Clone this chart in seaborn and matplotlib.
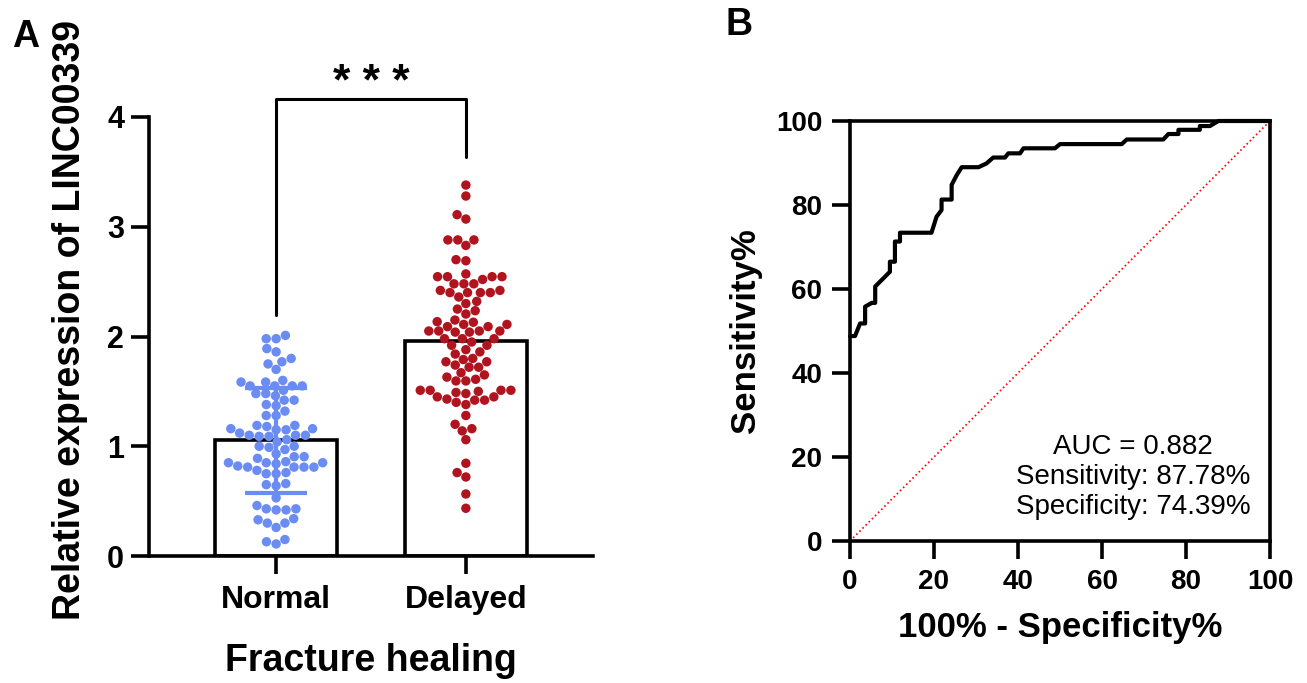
import numpy as np
import pandas as pd
import matplotlib
matplotlib.use("Agg")
import matplotlib.pyplot as plt
import seaborn as sns

# --- panel A: relative expression of LINC00339 ---
groups = ["Normal", "Delayed"]
group_colors = ["#6B8CF2", "#B0151F"]

normal_vals = [2.01, 1.98, 1.98, 1.89, 1.86, 1.80, 1.77, 1.75, 1.70, 1.60, 1.585, 1.585,
               1.55, 1.55, 1.55, 1.55, 1.51, 1.48, 1.48, 1.46, 1.42, 1.42, 1.38, 1.37,
               1.32, 1.28, 1.28, 1.19, 1.19, 1.18, 1.16, 1.16, 1.15, 1.15, 1.12, 1.10,
               1.10, 1.10, 1.09, 1.09, 1.06, 1.04, 1.00, 1.00, 0.99, 0.97, 0.93, 0.905,
               0.905, 0.89, 0.86, 0.85, 0.85, 0.85, 0.84, 0.82, 0.81, 0.81, 0.81, 0.81,
               0.78, 0.76, 0.75, 0.75, 0.66, 0.65, 0.64, 0.53, 0.46, 0.43, 0.43, 0.42,
               0.42, 0.34, 0.33, 0.30, 0.30, 0.26, 0.15, 0.13, 0.11]

delayed_vals = [3.38, 3.28, 3.11, 3.07, 2.88, 2.88, 2.88, 2.83, 2.70, 2.69, 2.57,
                2.545, 2.545, 2.545, 2.545, 2.52, 2.48, 2.48, 2.48, 2.42, 2.42,
                2.40, 2.40, 2.40, 2.40, 2.36, 2.32, 2.30, 2.25, 2.235, 2.205, 2.15,
                2.135, 2.13, 2.11, 2.11, 2.09, 2.09, 2.05, 2.05, 2.05, 2.05, 2.04,
                2.04, 1.98, 1.98, 1.98, 1.95, 1.92, 1.92, 1.88, 1.86, 1.84, 1.80,
                1.79, 1.77, 1.77, 1.74, 1.72, 1.72, 1.67, 1.65, 1.63, 1.61, 1.595,
                1.595, 1.51, 1.51, 1.51, 1.51, 1.50, 1.49, 1.48, 1.45, 1.45, 1.43,
                1.42, 1.42, 1.40, 1.38, 1.28, 1.20, 1.16, 1.14, 1.06, 0.845, 0.76,
                0.72, 0.565, 0.435]

# --- panel B: ROC curve (100% - specificity, sensitivity) ---
fpr = [0, 1.2, 2.4, 3.6, 3.6, 5.2, 6.0, 6.0, 7.2, 8.3, 9.5, 9.5, 10.7, 10.7, 11.9,
       11.9, 19.4, 20.6, 21.8, 21.8, 24.2, 24.2, 25.4, 26.6, 30.6, 32.5, 34.1, 36.9,
       37.7, 40.5, 41.3, 48.8, 50.0, 64.7, 65.9, 74.6, 75.8, 78.2, 78.2, 83.3, 83.3,
       85.7, 87.7, 100]
tpr = [48.8, 48.8, 51.8, 51.8, 55.8, 56.7, 56.7, 60.6, 61.8, 62.9, 64.1, 66.5, 66.5,
       71.3, 71.3, 73.4, 73.4, 77.2, 78.8, 81.3, 81.3, 84.8, 87.1, 89.0, 89.0, 89.9,
       91.3, 91.3, 92.3, 92.3, 93.5, 93.5, 94.5, 94.5, 95.6, 95.6, 96.9, 96.9, 97.9,
       97.9, 98.8, 98.8, 100, 100]
roc_text = "AUC = 0.882\nSensitivity: 87.78%\nSpecificity: 74.39%"

sns.set_theme(style="ticks")
plt.rcParams["font.family"] = ["Liberation Sans", "DejaVu Sans"]
for k in ["text.color", "axes.labelcolor", "axes.edgecolor", "xtick.color", "ytick.color"]:
    plt.rcParams[k] = "black"
LW = 2.6

fig = plt.figure(figsize=(13.07, 6.83), dpi=100)
W, H = 1307, 683
axA = fig.add_axes([149 / W, 1 - 556 / H, (593 - 149) / W, (556 - 117) / H])
axB = fig.add_axes([850 / W, 1 - 541 / H, 420 / W, 420 / H])

df = pd.DataFrame({
    "group": ["Normal"] * len(normal_vals) + ["Delayed"] * len(delayed_vals),
    "value": normal_vals + delayed_vals,
})

# bars (mean) + swarm of points
sns.barplot(data=df, x="group", y="value", order=groups, errorbar=None, width=0.645,
            color="white", edgecolor="black", linewidth=LW, ax=axA, zorder=1)
sns.swarmplot(data=df, x="group", y="value", order=groups, hue="group",
              palette=group_colors, hue_order=groups, size=6.8, legend=False,
              ax=axA, zorder=3)

# mean +- SD for the normal group
m = np.mean(normal_vals)
s = np.std(normal_vals, ddof=1)
axA.errorbar(0, m, yerr=s, color=group_colors[0], lw=3, capsize=22, capthick=3, zorder=4)

axA.set_xlim(-0.67, 1.67)
axA.set_ylim(0, 4)
axA.set_yticks([0, 1, 2, 3, 4])
sns.despine(ax=axA)
for sp in ["left", "bottom"]:
    axA.spines[sp].set_linewidth(LW)
axA.tick_params(axis="both", length=13, width=LW, color="black")
axA.tick_params(axis="y", labelsize=22, pad=5)
axA.tick_params(axis="x", labelsize=23, pad=8)
for lab in axA.get_xticklabels() + axA.get_yticklabels():
    lab.set_fontweight("bold")
axA.set_xlabel("Fracture healing", fontsize=27, fontweight="bold", labelpad=20)
axA.set_ylabel("Relative expression of LINC00339", fontsize=27, fontweight="bold")
axA.yaxis.set_label_coords(-0.137, 0.537)

# significance bracket
axA.plot([0, 0, 1, 1], [2.2, 4.16, 4.16, 3.64], color="black", lw=2.2, clip_on=False)
axA.text(0.5, 4.2, "* * *", ha="center", va="baseline", fontsize=32,
         fontweight="bold", clip_on=False)

# ROC
sns.lineplot(x=[0, 100], y=[0, 100], color="red", linestyle=":", linewidth=1.2, ax=axB)
sns.lineplot(x=fpr, y=tpr, estimator=None, sort=False, color="black", linewidth=3,
             ax=axB, clip_on=False)
axB.set_xlim(0, 100)
axB.set_ylim(0, 100)
axB.set_xticks(range(0, 101, 20))
axB.set_yticks(range(0, 101, 20))
for sp in axB.spines.values():
    sp.set_linewidth(LW)
axB.tick_params(axis="both", length=13, width=LW, color="black", labelsize=20, pad=7)
for lab in axB.get_xticklabels() + axB.get_yticklabels():
    lab.set_fontweight("bold")
axB.set_xlabel("100% - Specificity%", fontsize=25, fontweight="bold", labelpad=12)
axB.set_ylabel("Sensitivity%", fontsize=25, fontweight="bold", labelpad=10)
axB.text(67.4, 15.2, roc_text, ha="center", va="center", multialignment="center",
         fontsize=20)

fig.text(12 / W, 1 - 47 / H, "A", fontsize=27, fontweight="bold")
fig.text(725 / W, 1 - 35 / H, "B", fontsize=27, fontweight="bold")

fig.savefig("out.png", dpi=100)
